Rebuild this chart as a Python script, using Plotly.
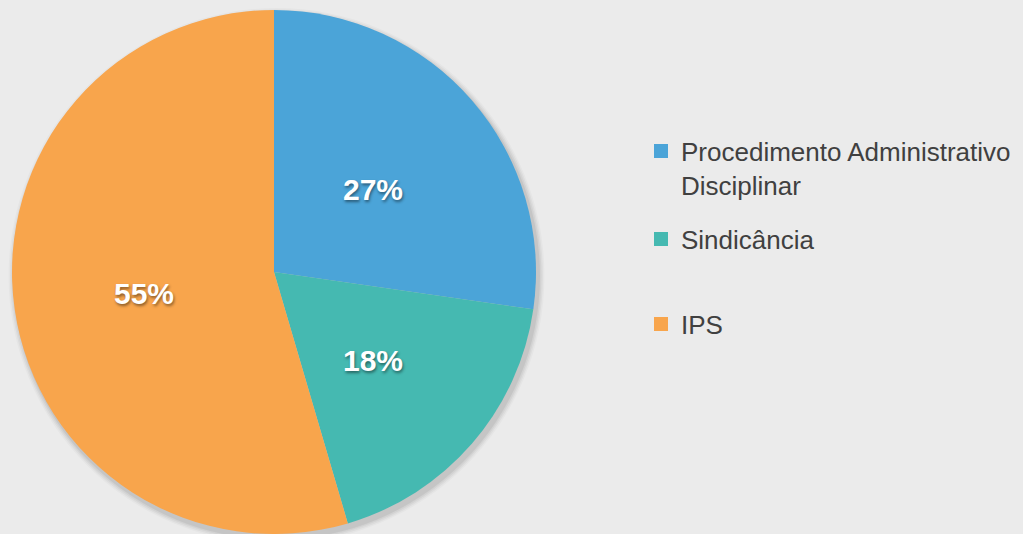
import math
import plotly.graph_objects as go

labels = ["Procedimento Administrativo Disciplinar", "Sindicância", "IPS"]
legend_text = ["Procedimento Administrativo<br>Disciplinar", "Sindicância", "IPS"]
values = [3, 2, 6]
colors = ["#4BA4D8", "#45B9B1", "#F8A54C"]

W, H = 1023, 534
cx, cy, R = 274, 272, 262  # pie centre / radius in px (from top-left)

fig = go.Figure()

# soft shadow behind the pie
shapes = []
for d, op in [(6, 0.025), (4.5, 0.035), (3, 0.045), (1.5, 0.06)]:
    r = R + d
    ox, oy = 2.5, 4
    shapes.append(dict(type="circle", xref="paper", yref="paper", layer="below",
                       x0=(cx + ox - r) / W, x1=(cx + ox + r) / W,
                       y0=1 - (cy + oy + r) / H, y1=1 - (cy + oy - r) / H,
                       fillcolor=f"rgba(0,0,0,{op})", line=dict(width=0)))

fig.add_trace(go.Pie(
    labels=labels, values=values, sort=False, direction="clockwise", rotation=0,
    marker=dict(colors=colors, line=dict(width=0)),
    textinfo="none",
    domain=dict(x=[(cx - R) / W, (cx + R) / W], y=[1 - (cy + R) / H, 1 - (cy - R) / H]),
    showlegend=False, hoverinfo="label+percent",
))

# percentage labels placed at half radius on each slice bisector (Excel style)
total = sum(values)
annotations = []
cum = 0
for v in values:
    mid = (cum + v / 2) / total * 2 * math.pi
    cum += v
    px = cx + 0.5 * R * math.sin(mid)
    py = cy - 0.5 * R * math.cos(mid)
    annotations.append(dict(
        x=px / W, y=1 - py / H, xref="paper", yref="paper", showarrow=False,
        text=f"{round(100 * v / total)}%", xanchor="center", yanchor="middle", yshift=-3,
        font=dict(family="Liberation Sans", size=30, color="white", weight="bold",
                  shadow="1px 2px 3px rgba(0,0,0,0.45)")))

legend_centres = [168, 239, 324]
for i, (lt, c) in enumerate(zip(legend_text, colors)):
    key = "legend" if i == 0 else f"legend{i+1}"
    fig.add_trace(go.Scatter(x=[None], y=[None], mode="markers", name=lt,
                             marker=dict(symbol="square", size=14, color=c),
                             legend=key, showlegend=True, hoverinfo="skip"))
    fig.layout[key] = dict(x=641 / W, xanchor="left", y=1 - legend_centres[i] / H, yanchor="middle",
                           valign="top", bgcolor="rgba(0,0,0,0)", borderwidth=0,
                           font=dict(family="Liberation Sans", size=26, color="#404040"))

fig.update_layout(
    width=W, height=H, margin=dict(l=0, r=0, t=0, b=0),
    paper_bgcolor="#EBEBEB", plot_bgcolor="#EBEBEB",
    xaxis=dict(visible=False), yaxis=dict(visible=False),
    shapes=shapes, annotations=annotations,
)

fig.write_html("out.html", config={"displayModeBar": False},
               post_script="document.body.style.margin='0';document.body.style.overflow='hidden';")
